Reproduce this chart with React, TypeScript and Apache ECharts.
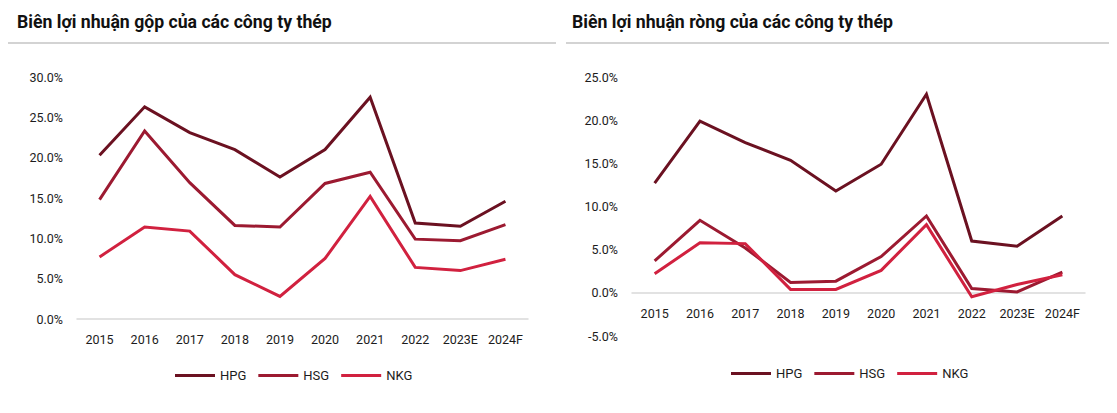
import React, { useEffect, useRef } from "react";
import * as echarts from "echarts";

const categories = ["2015", "2016", "2017", "2018", "2019", "2020", "2021", "2022", "2023E", "2024F"];

const grossHPG = [20.3, 26.3, 23.1, 21.0, 17.6, 21.0, 27.5, 11.9, 11.5, 14.6];
const grossHSG = [14.8, 23.3, 16.9, 11.6, 11.4, 16.8, 18.2, 9.9, 9.7, 11.7];
const grossNKG = [7.7, 11.4, 10.9, 5.5, 2.8, 7.5, 15.2, 6.4, 6.0, 7.4];

const netHPG = [12.7, 19.9, 17.4, 15.35, 11.8, 14.9, 23.0, 6.0, 5.4, 8.9];
const netHSG = [3.7, 8.4, 5.2, 1.2, 1.35, 4.2, 8.9, 0.5, 0.1, 2.4];
const netNKG = [2.2, 5.8, 5.7, 0.4, 0.4, 2.6, 7.9, -0.46, 0.96, 2.1];

const seriesNames = ["HPG", "HSG", "NKG"];
const colors = ["#6b1121", "#9c1a31", "#d1213f"];

const titleLeft = "Biên lợi nhuận gộp của các công ty thép";
const titleRight = "Biên lợi nhuận ròng của các công ty thép";

const FONT = "'Liberation Sans Narrow', 'Arial Narrow', Roboto, 'Liberation Sans', sans-serif";
const TEXT = "#1c1c1c";

export default function App() {
  const ref = useRef<HTMLDivElement>(null);
  useEffect(() => {
    if (!ref.current) return;
    const chart = echarts.init(ref.current, undefined, { renderer: "svg" });
    const xAxisBase = {
      type: "category",
      data: categories,
      boundaryGap: true,
      axisTick: { show: false },
      axisLine: { show: true, onZero: false, lineStyle: { color: "#d9d9d9", width: 1.5 } },
      axisLabel: { color: TEXT, fontFamily: FONT, fontSize: 12.5, margin: 14, interval: 0 },
    };
    const yAxisBase = {
      type: "value",
      interval: 5,
      splitLine: { show: false },
      axisLine: { show: false },
      axisTick: { show: false },
      axisLabel: {
        color: TEXT,
        fontFamily: FONT,
        fontSize: 12.5,
        margin: 14,
        formatter: (v: number) => v.toFixed(1) + "%",
      },
    };
    const mk = (name: string, data: number[], i: number, idx: number) => ({
      name,
      type: "line",
      data,
      xAxisIndex: idx,
      yAxisIndex: idx,
      symbol: "none",
      lineStyle: { color: colors[i], width: 3, cap: "butt", join: "miter" },
      itemStyle: { color: colors[i] },
    });
    const legendBase = {
      data: seriesNames,
      icon: "rect",
      itemWidth: 40,
      itemHeight: 3,
      itemGap: 12,
      textStyle: { color: TEXT, fontFamily: FONT, fontSize: 13 },
    };
    const titleStyle = {
      fontFamily: FONT,
      fontWeight: "bold",
      fontSize: 19,
      fill: "#111",
      textVerticalAlign: "middle",
    };
    const rightGridHeight = 259;
    chart.setOption({
      animation: false,
      graphic: [
        { type: "text", x: 9, y: 13, scaleX: 0.93, style: { ...titleStyle, text: titleLeft } },
        { type: "text", x: 564, y: 13, scaleX: 0.93, style: { ...titleStyle, text: titleRight } },
        { type: "line", shape: { x1: -2, y1: 35, x2: 548, y2: 35 }, style: { stroke: "#c4c4c4", lineWidth: 1.5 } },
        { type: "line", shape: { x1: 558, y1: 35, x2: 1117, y2: 35 }, style: { stroke: "#c4c4c4", lineWidth: 1.5 } },
      ],
      legend: [
        { ...legendBase, left: 162, top: 356 },
        { ...legendBase, left: 718, top: 354 },
      ],
      grid: [
        { left: 69, top: 69, width: 451, height: 242 },
        { left: 624, top: 69, width: 453, height: rightGridHeight },
      ],
      xAxis: [
        { ...xAxisBase, gridIndex: 0 },
        { ...xAxisBase, gridIndex: 1, offset: -(rightGridHeight * 5) / 30 },
      ],
      yAxis: [
        { ...yAxisBase, gridIndex: 0, min: 0, max: 30 },
        { ...yAxisBase, gridIndex: 1, min: -5, max: 25 },
      ],
      series: [
        mk("HPG", grossHPG, 0, 0),
        mk("HSG", grossHSG, 1, 0),
        mk("NKG", grossNKG, 2, 0),
        mk("HPG", netHPG, 0, 1),
        mk("HSG", netHSG, 1, 1),
        mk("NKG", netNKG, 2, 1),
      ],
    });
    return () => chart.dispose();
  }, []);
  return <div ref={ref} style={{ width: 1101, height: 397 }} />;
}
